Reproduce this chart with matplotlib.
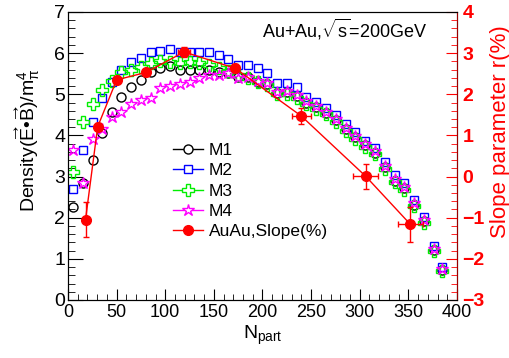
import numpy as np
import matplotlib
matplotlib.use('Agg')
import matplotlib.pyplot as plt
from matplotlib.ticker import MultipleLocator
from matplotlib.lines import Line2D

plt.rcParams['font.family'] = ['Liberation Sans', 'DejaVu Sans']
plt.rcParams['mathtext.fontset'] = 'custom'
plt.rcParams['mathtext.rm'] = 'Liberation Sans'
plt.rcParams['mathtext.it'] = 'Liberation Sans'

# Npart bins (shared by the four models)
npart = [5.5, 15, 25.5, 35, 45, 55, 65, 75, 85, 95, 105, 115, 125, 135, 145, 155, 165,
         175, 185, 195, 205, 215, 225, 235, 245, 255, 265, 276, 286, 295, 305, 316,
         326, 336, 346, 356, 366, 376, 385]

m1 = [2.27, 2.85, 3.40, 4.05, 4.58, 4.94, 5.17, 5.35, 5.55, 5.63, 5.68, 5.60, 5.59, 5.58,
      5.58, 5.55, 5.52, 5.42, 5.41, 5.31, 5.25, 5.04, 5.05, 4.95, 4.80, 4.69, 4.55, 4.37,
      4.15, 3.96, 3.76, 3.58, 3.23, 2.90, 2.72, 2.32, 1.91, 1.22, 0.73]
m2 = [2.70, 3.65, 4.33, 4.90, 5.31, 5.59, 5.79, 5.87, 6.03, 6.05, 6.11, 6.02, 6.02, 6.03,
      6.03, 5.96, 5.85, 5.71, 5.71, 5.64, 5.51, 5.27, 5.27, 5.17, 4.94, 4.82, 4.67, 4.50,
      4.28, 4.08, 3.87, 3.70, 3.36, 3.03, 2.85, 2.44, 2.02, 1.31, 0.81]
m3 = [3.12, 4.33, 4.77, 5.10, 5.33, 5.55, 5.60, 5.67, 5.75, 5.80, 5.78, 5.77, 5.79, 5.76,
      5.72, 5.65, 5.57, 5.48, 5.40, 5.30, 5.22, 5.00, 5.01, 4.91, 4.76, 4.65, 4.51, 4.33,
      4.11, 3.92, 3.72, 3.54, 3.19, 2.86, 2.68, 2.28, 1.87, 1.18, 0.70]
m4 = [3.65, 2.85, 3.92, 4.15, 4.45, 4.58, 4.76, 4.86, 4.90, 5.15, 5.20, 5.25, 5.30, 5.40,
      5.46, 5.48, 5.52, 5.40, 5.43, 5.33, 5.27, 5.06, 5.08, 4.98, 4.83, 4.72, 4.58, 4.40,
      4.18, 3.99, 3.79, 3.61, 3.26, 2.93, 2.75, 2.35, 1.94, 1.24, 0.75]

# AuAu slope parameter r(%) (right axis)
slope_x = [18, 30.5, 50, 80, 119.5, 172, 240, 306, 352]
slope_y = [-1.05, 1.21, 2.35, 2.53, 3.03, 2.63, 1.47, 0.01, -1.16]
slope_xerr = [0, 1, 2, 3, 6, 4, 10, 13, 13]
slope_yerr = [0.42, 0.08, 0.08, 0.08, 0.12, 0.1, 0.2, 0.3, 0.43]

fig = plt.figure(figsize=(5.1, 3.58), dpi=100)
ax = fig.add_axes([68/510, 58/358, 389/510, 288/358])

ax.plot(npart, m1, 'o', ms=6.5, mfc='none', mec='black', mew=1)
ax.plot(npart, m2, 's', ms=6, mfc='none', mec='blue', mew=1)
ax.plot(npart, m3, 'P', ms=8, mfc='none', mec='#00ee00', mew=1)
ax.plot(npart, m4, '*', ms=9, mfc='none', mec='magenta', mew=1)

ax.set_xlim(0, 400)
ax.set_ylim(0, 7)
ax.xaxis.set_major_locator(MultipleLocator(50))
ax.xaxis.set_minor_locator(MultipleLocator(10))
ax.yaxis.set_major_locator(MultipleLocator(1))
ax.yaxis.set_minor_locator(MultipleLocator(0.2))
ax.tick_params(which='both', direction='in')
ax.tick_params(axis='y', which='major', length=11, pad=2, labelsize=14)
ax.tick_params(axis='y', which='minor', length=5)
ax.tick_params(axis='x', which='major', length=8, pad=3, labelsize=13)
ax.tick_params(axis='x', which='minor', length=4)

ax.set_xlabel('N$_{\\mathrm{part}}$', fontsize=14, labelpad=2)
ax.set_ylabel('Density($\\overrightarrow{\\mathrm{E}}$\u2022$\\overrightarrow{\\mathrm{B}}$)/m$_{\\pi}^{4}$',
              fontsize=14)
ax.yaxis.set_label_coords(-0.067, 0.555)

ax.text(0.5, 0.94, 'Au+Au,$\\sqrt{\\mathrm{s}}$=200GeV', transform=ax.transAxes,
        ha='left', va='center', fontsize=13)

ax2 = ax.twinx()
ax2.errorbar(slope_x, slope_y, xerr=slope_xerr, yerr=slope_yerr, fmt='o-', color='red',
             ms=7, lw=1, elinewidth=1, capsize=2)
ax2.set_ylim(-3, 4)
ax2.yaxis.set_major_locator(MultipleLocator(1))
ax2.yaxis.set_minor_locator(MultipleLocator(0.2))
ax2.tick_params(axis='y', which='both', direction='in', colors='red', labelsize=14, pad=4)
ax2.tick_params(axis='y', which='major', length=8)
ax2.tick_params(axis='y', which='minor', length=4)
for lab in ax2.get_yticklabels():
    lab.set_fontweight('bold')
ax2.spines['right'].set_color('#990000')
ax2.set_ylabel('Slope parameter r(%)', color='red', fontsize=16)
ax2.yaxis.set_label_coords(1.085, 0.583)

handles = [
    Line2D([], [], color='black', marker='o', ms=6.5, mfc='white', lw=1),
    Line2D([], [], color='blue', marker='s', ms=6, mfc='white', lw=1),
    Line2D([], [], color='#00ee00', marker='P', ms=8, mfc='white', lw=1),
    Line2D([], [], color='magenta', marker='*', ms=9, mfc='white', lw=1),
    Line2D([], [], color='red', marker='o', ms=7, lw=1),
]
labels = ['M1', 'M2', 'M3', 'M4', 'AuAu,Slope(%)']
ax.legend(handles, labels, loc='upper left', bbox_to_anchor=(0.23, 0.6), frameon=False,
          fontsize=12.5, handlelength=1.75, handletextpad=0.3, labelspacing=0.3)

fig.savefig('out.png', dpi=100)
